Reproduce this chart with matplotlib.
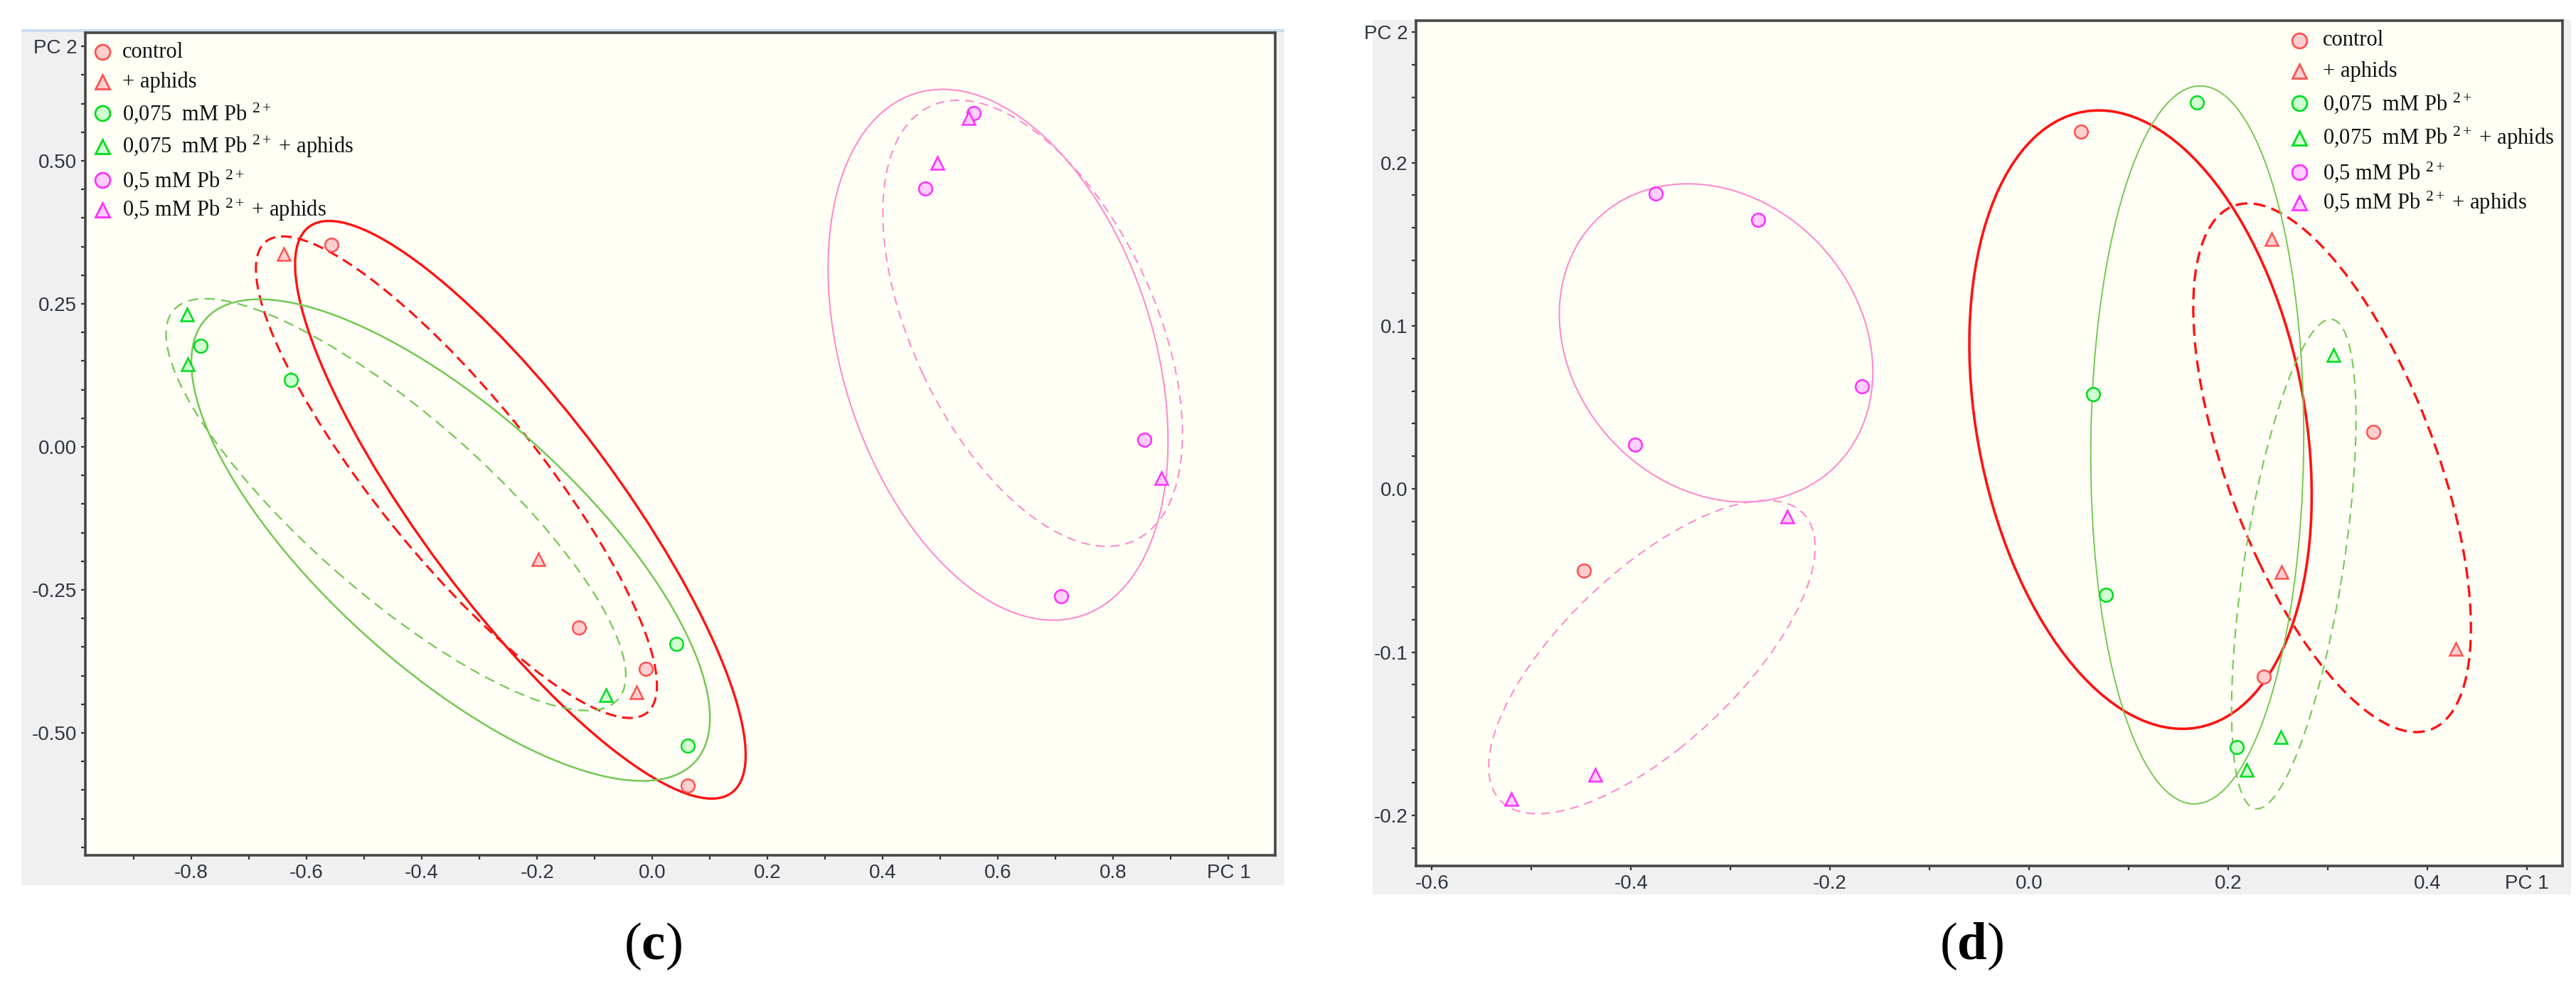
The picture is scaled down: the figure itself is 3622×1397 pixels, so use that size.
import numpy as np
import matplotlib.pyplot as plt
from matplotlib.patches import Ellipse, Rectangle

# ---- data ----
labels = ['control', '+ aphids', '0,075  mM Pb $^{2+}$', '0,075  mM Pb $^{2+}$ + aphids',
          '0,5 mM Pb $^{2+}$', '0,5 mM Pb $^{2+}$ + aphids']

# panel (c)
c_control_x = [-0.557, -0.127, -0.011, 0.061]
c_control_y = [0.353, -0.316, -0.388, -0.592]
c_aphids_x = [-0.640, -0.198, -0.027]
c_aphids_y = [0.337, -0.196, -0.429]
c_pb075_x = [-0.784, -0.627, 0.042, 0.061]
c_pb075_y = [0.177, 0.117, -0.344, -0.522]
c_pb075a_x = [-0.807, -0.806, -0.081]
c_pb075a_y = [0.232, 0.144, -0.434]
c_pb05_x = [0.474, 0.558, 0.854, 0.709]
c_pb05_y = [0.451, 0.584, 0.013, -0.261]
c_pb05a_x = [0.495, 0.549, 0.883]
c_pb05a_y = [0.496, 0.575, -0.055]

# group ellipses: centre x, centre y, half width, half height, x of top point
c_ellipses = [(-0.229, -0.110, 0.391, 0.505, -0.561),
              (-0.340, -0.053, 0.348, 0.421, -0.641),
              (-0.350, -0.163, 0.450, 0.421, -0.682),
              (-0.445, -0.101, 0.399, 0.360, -0.776),
              (0.600, 0.161, 0.295, 0.464, 0.504),
              (0.660, 0.216, 0.260, 0.390, 0.531)]

# panel (d)
d_control_x = [0.052, -0.447, 0.346, 0.236]
d_control_y = [0.219, -0.050, 0.035, -0.115]
d_aphids_x = [0.244, 0.254, 0.429]
d_aphids_y = [0.153, -0.051, -0.098]
d_pb075_x = [0.169, 0.064, 0.077, 0.209]
d_pb075_y = [0.237, 0.058, -0.065, -0.158]
d_pb075a_x = [0.306, 0.253, 0.219]
d_pb075a_y = [0.082, -0.152, -0.172]
d_pb05_x = [-0.375, -0.272, -0.168, -0.396]
d_pb05_y = [0.181, 0.165, 0.063, 0.027]
d_pb05a_x = [-0.243, -0.436, -0.520]
d_pb05a_y = [-0.017, -0.175, -0.190]

d_ellipses = [(0.112, 0.0425, 0.172, 0.1895, 0.070),
              (0.3045, 0.013, 0.1395, 0.162, 0.220),
              (0.169, 0.027, 0.107, 0.220, 0.172),
              (0.266, -0.046, 0.0625, 0.150, 0.303),
              (-0.3145, 0.0895, 0.1575, 0.0975, -0.343),
              (-0.379, -0.103, 0.164, 0.096, -0.264)]

c_xticks = [-0.8, -0.6, -0.4, -0.2, 0.0, 0.2, 0.4, 0.6, 0.8, 1.0]
c_xticklabels = ['-0.8', '-0.6', '-0.4', '-0.2', '0.0', '0.2', '0.4', '0.6', '0.8', 'PC 1']
c_yticks = [-0.5, -0.25, 0.0, 0.25, 0.5, 0.7]
c_yticklabels = ['-0.50', '-0.25', '0.00', '0.25', '0.50', 'PC 2']
d_xticks = [-0.6, -0.4, -0.2, 0.0, 0.2, 0.4, 0.5]
d_xticklabels = ['-0.6', '-0.4', '-0.2', '0.0', '0.2', '0.4', 'PC 1']
d_yticks = [-0.2, -0.1, 0.0, 0.1, 0.2, 0.28]
d_yticklabels = ['-0.2', '-0.1', '0.0', '0.1', '0.2', 'PC 2']

# ---- styles ----
plt.rcParams['mathtext.fontset'] = 'custom'
plt.rcParams['mathtext.rm'] = 'Liberation Serif'
plt.rcParams['mathtext.it'] = 'Liberation Serif:italic'
plt.rcParams['mathtext.bf'] = 'Liberation Serif:bold'

tick_font = ['Liberation Sans Narrow', 'Liberation Sans', 'DejaVu Sans']
tick_col = '#2e3440'
mk_edge = ['#ff5252', '#ff5252', '#00dc1e', '#00dc1e', '#ff30ff', '#ff30ff']
mk_face = ['#ffcfcf', '#ffcfcf', '#d0ffd0', '#d0ffd0', '#ffd0ff', '#ffd0ff']
mk_shape = ['o', '^', 'o', '^', 'o', '^']
ell_col = ['#ff1212', '#ff1212', '#74c852', '#74c852', '#ff8ccc', '#ff8ccc']
ell_ls = ['-', (0, (5, 2.7)), '-', (0, (6.5, 4)), '-', (0, (6, 4))]


def ellipse_from_box(cx, cy, hx, hy, xtop):
    # recover semi-axes and tilt from the bounding box and the top point
    c = (xtop - cx) * hy
    d = hy ** 2 - hx ** 2
    s = hx ** 2 + hy ** 2
    dd = np.sqrt(4 * c ** 2 + d ** 2)
    theta = 0.5 * np.arctan2(2 * c, -d)
    a = np.sqrt((s + dd) / 2)
    b = np.sqrt(max((s - dd) / 2, 1e-8))
    return 2 * a, 2 * b, np.degrees(theta)


def draw_panel(ax, groups, ellipses, widths, xlim, ylim, xt, xtl, xminor, yt, ytl, yminor, leg_x, leg_tx):
    ax.set_facecolor('#fffff6')
    for i, (cx, cy, hx, hy, xtop) in enumerate(ellipses):
        w, h, ang = ellipse_from_box(cx, cy, hx, hy, xtop)
        ax.add_patch(Ellipse((cx, cy), w, h, angle=ang, fill=False, edgecolor=ell_col[i],
                             linewidth=widths[i], linestyle=ell_ls[i], zorder=2))
    for i, (gx, gy) in enumerate(groups):
        ax.plot(gx, gy, ls='none', marker=mk_shape[i], ms=13.5, mew=1.8,
                mec=mk_edge[i], mfc=mk_face[i], zorder=3)
    ax.set_xlim(*xlim)
    ax.set_ylim(*ylim)
    ax.set_xticks(xt)
    ax.set_xticklabels(xtl)
    ax.set_xticks(xminor, minor=True)
    ax.set_yticks(yt)
    ax.set_yticklabels(ytl)
    ax.set_yticks(yminor, minor=True)
    ax.tick_params(which='both', direction='out', length=4.5, width=1.6, color='#333333',
                   labelsize=20, labelcolor=tick_col, pad=4)
    for lab in ax.get_xticklabels() + ax.get_yticklabels():
        lab.set_family(tick_font)
    for sp in ax.spines.values():
        sp.set_color('#474747')
        sp.set_linewidth(2.6)
    # legend drawn by hand in the top corner
    rows = [0.0235, 0.0598, 0.0977, 0.1387, 0.1791, 0.2155]
    for i, lab in enumerate(labels):
        yy = 1 - rows[i]
        ax.plot([leg_x], [yy], transform=ax.transAxes, ls='none', marker=mk_shape[i], ms=15,
                mew=2.0, mec=mk_edge[i], mfc=mk_face[i], clip_on=False, zorder=5)
        ax.text(leg_tx, yy, lab, transform=ax.transAxes, family='Liberation Serif', fontsize=22,
                color='#111111', va='center', ha='left', zorder=5)


fig = plt.figure(figsize=(36.22, 13.97), dpi=100)
W, H = 3622.0, 1397.0

# grey window backgrounds, kept behind the axes
fig.patches.append(Rectangle((30 / W, 1 - 1244 / H), 1776 / W, 1203 / H, transform=fig.transFigure,
                             facecolor='#f0f0f0', edgecolor='none', zorder=-2))
fig.patches.append(Rectangle((30 / W, 1 - 45 / H), 1776 / W, 4 / H, transform=fig.transFigure,
                             facecolor='#c9ddf0', edgecolor='none', zorder=-2))
fig.patches.append(Rectangle((1930 / W, 1 - 1257 / H), 1685 / W, 1229 / H, transform=fig.transFigure,
                             facecolor='#f0f0f0', edgecolor='none', zorder=-2))

ax1 = fig.add_axes([120 / W, 1 - 1202 / H, 1673 / W, 1156 / H])
ax2 = fig.add_axes([1991 / W, 1 - 1217 / H, 1612 / W, 1188 / H])

c_groups = [(c_control_x, c_control_y), (c_aphids_x, c_aphids_y), (c_pb075_x, c_pb075_y),
            (c_pb075a_x, c_pb075a_y), (c_pb05_x, c_pb05_y), (c_pb05a_x, c_pb05a_y)]
d_groups = [(d_control_x, d_control_y), (d_aphids_x, d_aphids_y), (d_pb075_x, d_pb075_y),
            (d_pb075a_x, d_pb075a_y), (d_pb05_x, d_pb05_y), (d_pb05a_x, d_pb05a_y)]

draw_panel(ax1, c_groups, c_ellipses, [2.4, 2.2, 1.8, 1.6, 1.5, 1.5],
           (-0.984, 1.081), (-0.714, 0.724),
           c_xticks, c_xticklabels, np.arange(-0.9, 0.95, 0.2),
           c_yticks, c_yticklabels, np.arange(-0.70, 0.71, 0.05),
           0.0143, 0.031)
draw_panel(ax2, d_groups, d_ellipses, [2.6, 2.4, 1.4, 1.5, 1.5, 1.5],
           (-0.616, 0.536), (-0.231, 0.287),
           d_xticks, d_xticklabels, [-0.5, -0.3, -0.1, 0.1, 0.3],
           d_yticks, d_yticklabels, np.arange(-0.22, 0.281, 0.02),
           0.7705, 0.791)

# panel captions
fig.text(918 / W, 1 - 1330 / H, '(' + r'$\mathbf{c}$' + ')', family='Liberation Serif',
         fontsize=54, ha='center', va='center')
fig.text(2772 / W, 1 - 1330 / H, '(' + r'$\mathbf{d}$' + ')', family='Liberation Serif',
         fontsize=54, ha='center', va='center')

fig.savefig('out.png', dpi=100, facecolor='white')
